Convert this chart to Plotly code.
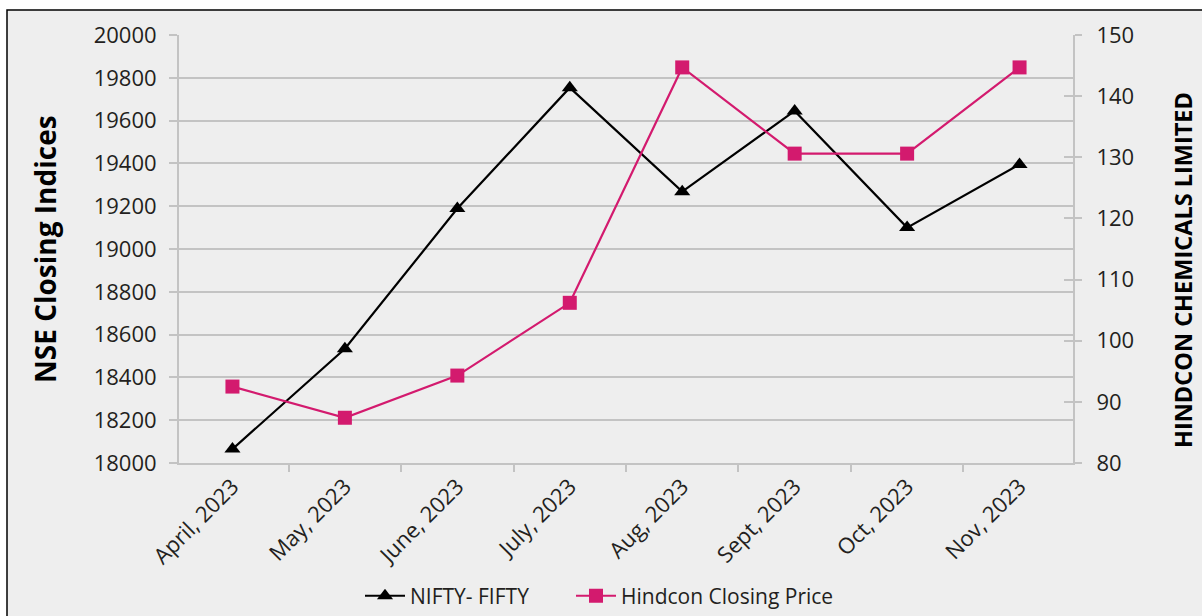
import plotly.graph_objects as go

months = ["April, 2023", "May, 2023", "June, 2023", "July, 2023",
          "Aug, 2023", "Sept, 2023", "Oct, 2023", "Nov, 2023"]
nifty = [18065, 18534, 19189, 19754, 19268, 19645, 19100, 19395]
hindcon = [92.5, 87.4, 94.3, 106.2, 144.7, 130.6, 130.6, 144.7]

left_ticks = list(range(18000, 20001, 200))
right_ticks = list(range(80, 151, 10))

FONT = "Open Sans"
BG = "#eeeeee"
GRID = "#c3c3c3"
PINK = "#d31a6e"
TXT = "#231f20"

fig = go.Figure()
fig.add_trace(go.Scatter(
    x=months, y=nifty, name="NIFTY- FIFTY", mode="lines+markers",
    line=dict(color="black", width=2.2),
    marker=dict(symbol="triangle-up", size=14, color="black"),
    yaxis="y", legend="legend"))
fig.add_trace(go.Scatter(
    x=months, y=hindcon, name="Hindcon Closing Price", mode="lines+markers",
    line=dict(color=PINK, width=2.2),
    marker=dict(symbol="square", size=14, color=PINK),
    yaxis="y2", legend="legend2"))

leg_common = dict(orientation="h", xanchor="left", y=-0.311, yanchor="middle",
                  font=dict(size=21, color=TXT), bgcolor="rgba(0,0,0,0)",
                  itemwidth=40)

fig.update_layout(
    width=1202, height=616,
    margin=dict(l=179, r=129, t=35, b=153, autoexpand=False),
    paper_bgcolor="white", plot_bgcolor=BG,
    font=dict(family=FONT, color=TXT, size=20),
    showlegend=True,
    legend=dict(x=(360 - 179) / 894, **leg_common),
    legend2=dict(x=(571 - 179) / 894, **leg_common),
    xaxis=dict(type="category", tickangle=-45, tickson="boundaries",
               ticks="outside", ticklen=7, tickcolor=GRID, tickwidth=2,
               showline=True, linecolor=GRID, linewidth=2,
               showgrid=False, zeroline=False, automargin=False,
               tickfont=dict(size=22, color=TXT)),
    yaxis=dict(range=[18000, 20000], tickvals=left_ticks,
               ticktext=[str(v) for v in left_ticks],
               showgrid=True, gridcolor=GRID, gridwidth=2,
               ticks="outside", ticklen=8, tickcolor=GRID, tickwidth=2,
               showline=True, linecolor=GRID, linewidth=2,
               zeroline=False, ticklabelstandoff=8, automargin=False,
               tickfont=dict(size=22, color=TXT)),
    yaxis2=dict(range=[80, 150], tickvals=right_ticks,
                ticktext=[str(v) for v in right_ticks],
                overlaying="y", side="right", showgrid=False,
                ticks="outside", ticklen=7, tickcolor=GRID, tickwidth=2,
                showline=True, linecolor=GRID, linewidth=2,
                zeroline=False, ticklabelstandoff=10, automargin=False,
                tickfont=dict(size=22, color=TXT)),
    yaxis3=dict(range=[80, 150], tickvals=right_ticks, showticklabels=False,
                overlaying="y", side="right", showgrid=False,
                ticks="inside", ticklen=9, tickcolor=GRID, tickwidth=2,
                showline=False, zeroline=False, automargin=False),
)

# invisible trace to activate yaxis3
fig.add_trace(go.Scatter(x=[months[0]], y=[80], yaxis="y3", mode="markers",
                         marker=dict(opacity=0), showlegend=False,
                         hoverinfo="skip"))

# outer bordered panel
fig.add_shape(type="rect", xref="paper", yref="paper",
              x0=(7 - 179) / 894, x1=(1215 - 179) / 894,
              y0=(463 - 630) / 428, y1=(463 - 10) / 428,
              fillcolor=BG, line=dict(color="black", width=1.5), layer="below")

fig.add_annotation(text="<b>NSE Closing Indices</b>", xref="paper", yref="paper",
                   x=(45 - 179) / 894, y=(463 - 249) / 428, textangle=-90,
                   showarrow=False, font=dict(size=28, color="black"),
                   xanchor="center", yanchor="middle")
fig.add_annotation(text="<b>HINDCON CHEMICALS LIMITED</b>", xref="paper", yref="paper",
                   x=(1183 - 179) / 894, y=(463 - 270) / 428, textangle=-90,
                   showarrow=False, font=dict(size=23.5, color="black"),
                   xanchor="center", yanchor="middle")

fig.write_html("out.html", config={"displayModeBar": False},
               post_script="document.body.style.margin='0px';document.body.style.overflow='hidden';")
